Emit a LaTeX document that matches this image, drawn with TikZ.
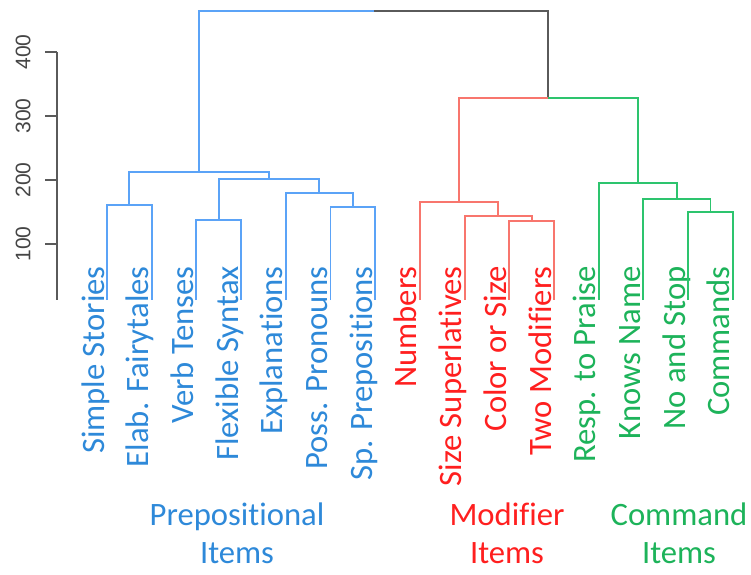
\documentclass[tikz,border=0pt]{standalone}
\usepackage{fontspec}
\setmainfont[Ligatures={NoCommon}]{Carlito}
\newfontfamily\tickfont{Liberation Sans}
\definecolor{lineblue}{HTML}{5BA3F7}
\definecolor{linered}{HTML}{F8766D}
\definecolor{linegreen}{HTML}{2DC46E}
\definecolor{txtblue}{HTML}{2E89D9}
\definecolor{txtred}{HTML}{FF1F1F}
\definecolor{txtgreen}{HTML}{1DB35A}
\definecolor{axgray}{HTML}{5A5A5A}
\definecolor{tickgray}{HTML}{454545}
\begin{document}
\begin{tikzpicture}[x=0.75pt,y=-0.75pt,
  br/.style={line width=1.4pt, line join=miter},
  bl/.style={br, draw=lineblue},
  rd/.style={br, draw=linered},
  gn/.style={br, draw=linegreen},
  gy/.style={br, draw=axgray},
  ax/.style={line width=1.4pt, draw=axgray},
  lab/.style={rotate=90, anchor=base east, inner sep=0pt, font=\fontsize{24.5}{28}\selectfont},
  tick/.style={rotate=90, anchor=center, inner sep=0pt, text=tickgray, font=\tickfont\fontsize{15.8}{18}\selectfont},
  grp/.style={align=center, anchor=base, inner sep=0pt, font=\fontsize{24.5}{28.5}\selectfont}]
\useasboundingbox (0,0) rectangle (751,575);
% leaves
\coordinate (L0) at (107,300);
\coordinate (L1) at (151.7,300);
\coordinate (L2) at (196.4,300);
\coordinate (L3) at (241.1,300);
\coordinate (L4) at (285.8,300);
\coordinate (L5) at (330.5,300);
\coordinate (L6) at (375.2,300);
\coordinate (L7) at (419.9,300);
\coordinate (L8) at (464.6,300);
\coordinate (L9) at (509.3,300);
\coordinate (L10) at (554,300);
\coordinate (L11) at (598.7,300);
\coordinate (L12) at (643.4,300);
\coordinate (L13) at (688.1,300);
\coordinate (L14) at (732.8,300);
% merges
\coordinate (mSE) at (129.35,205);
\coordinate (mVF) at (218.75,220);
\coordinate (mPS) at (352.85,207);
\coordinate (mEPS) at (319.3,193);
\coordinate (mVE) at (269,179);
\coordinate (mBlue) at (199.2,172);
\coordinate (mCT) at (531.65,221);
\coordinate (mSC) at (498.1,216);
\coordinate (mRed) at (459,202);
\coordinate (mNC) at (710.45,212);
\coordinate (mKN) at (676.9,199);
\coordinate (mGreen) at (637.8,183);
\coordinate (mRG) at (548.4,98);
\coordinate (mTop) at (373.8,11);
% leaf labels
\node[lab, text=txtblue] (n0) at (104,266) {Simple Stories};
\node[lab, text=txtblue] (n1) at (148.7,266) {Elab. Fairytales};
\node[lab, text=txtblue] (n2) at (193.4,266) {Verb Tenses};
\node[lab, text=txtblue] (n3) at (238.1,266) {Flexible Syntax};
\node[lab, text=txtblue] (n4) at (282.8,266) {Explanations};
\node[lab, text=txtblue] (n5) at (327.5,266) {Poss. Pronouns};
\node[lab, text=txtblue] (n6) at (372.2,266) {Sp. Prepositions};
\node[lab, text=txtred] (n7) at (416.9,266) {Numbers};
\node[lab, text=txtred] (n8) at (461.6,266) {Size Superlatives};
\node[lab, text=txtred] (n9) at (506.3,266) {Color or Size};
\node[lab, text=txtred] (n10) at (551,266) {Two Modifiers};
\node[lab, text=txtgreen] (n11) at (595.7,266) {Resp. to Praise};
\node[lab, text=txtgreen] (n12) at (640.4,266) {Knows Name};
\node[lab, text=txtgreen] (n13) at (685.1,266) {No and Stop};
\node[lab, text=txtgreen] (n14) at (729.8,266) {Commands};
% blue cluster
\draw[bl] (L0) |- (mSE) -| (L1);
\draw[bl] (L2) |- (mVF) -| (L3);
\draw[bl] (L5) |- (mPS) -| (L6);
\draw[bl] (L4) |- (mEPS) -| (mPS);
\draw[bl] (mVF) |- (mVE) -| (mEPS);
\draw[bl] (mSE) |- (mBlue) -| (mVE);
\draw[bl] (mBlue) |- (mTop);
\draw[gy] (mTop) -| (mRG);
% red cluster
\draw[rd] (L9) |- (mCT) -| (L10);
\draw[rd] (L8) |- (mSC) -| (mCT);
\draw[rd] (L7) |- (mRed) -| (mSC);
\draw[rd] (mRed) |- (mRG);
% green cluster
\draw[gn] (L13) |- (mNC) -| (L14);
\draw[gn] (L12) |- (mKN) -| (mNC);
\draw[gn] (L11) |- (mGreen) -| (mKN);
\draw[gn] (mRG) -| (mGreen);
% axis
\coordinate (aTop) at (57,52);
\coordinate (aBot) at (57,300);
\coordinate (t400) at (45,52);
\coordinate (t300) at (45,116);
\coordinate (t200) at (45,180);
\coordinate (t100) at (45,244);
\draw[ax] (aTop) -- (aBot);
\draw[ax] (t400) -- (t400 -| aTop);
\draw[ax] (t300) -- (t300 -| aTop);
\draw[ax] (t200) -- (t200 -| aTop);
\draw[ax] (t100) -- (t100 -| aTop);
\node[tick] (v400) at (23,52) {400};
\node[tick] (v300) at (23,116) {300};
\node[tick] (v200) at (23,180) {200};
\node[tick] (v100) at (23,244) {100};
% group labels
\node[grp, text=txtblue] (gP) at (237,563) {Prepositional\\Items};
\node[grp, text=txtred] (gM) at (507,563) {Modifier\\Items};
\node[grp, text=txtgreen] (gC) at (679,563) {Command\\Items};
\end{tikzpicture}
\end{document}
